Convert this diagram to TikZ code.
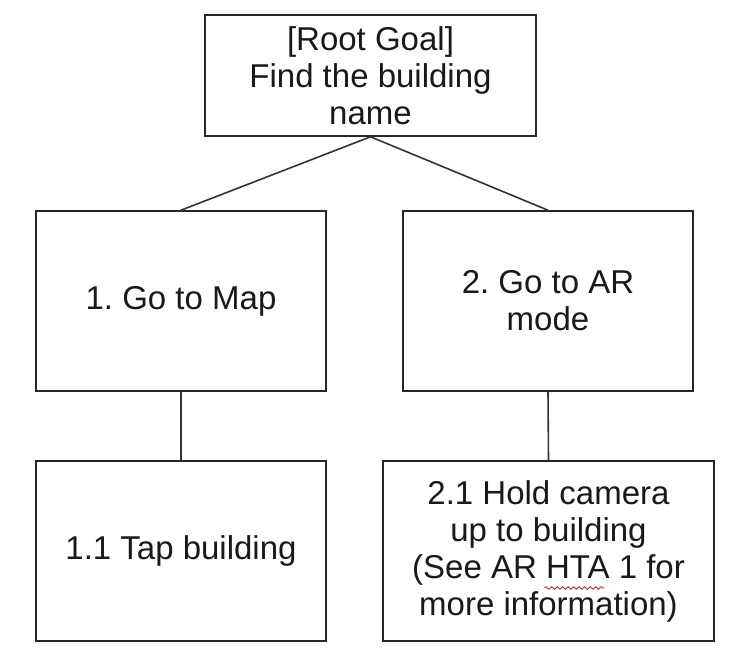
\documentclass[tikz,border=0pt]{standalone}
\usepackage{fontspec}
\setmainfont{Liberation Sans}
\usetikzlibrary{decorations.pathmorphing}
\definecolor{squig}{RGB}{205,45,45}
\frenchspacing
\begin{document}
\begin{tikzpicture}[x=1pt,y=1pt,
  box/.style={draw=black!85,line width=1.6pt,rectangle,align=center,inner sep=0pt,
    font=\fontsize{33}{37}\selectfont\frenchspacing,text=black!90},
  link/.style={draw=black!80,line width=1.6pt},
  squiggle/.style={draw=squig,line width=0.9pt,decorate,decoration={snake,amplitude=1.3pt,segment length=5.5pt}}]
\useasboundingbox (0,0) rectangle (741,-668);
\fill[white] (0,0) rectangle (741,-668);
\node[box,minimum width=331,minimum height=121] (root) at (370.5,-75.5) {[Root Goal]\\Find the building\\name};
\node[box,minimum width=290,minimum height=180] (b1) at (181,-301) {1. Go to Map};
\node[box,minimum width=290,minimum height=180] (b2) at (548,-301) {2. Go to AR\\mode};
\node[box,minimum width=290,minimum height=180] (b11) at (181,-551) {1.1 Tap building};
\node[box,minimum width=331,minimum height=180] (b21) at (548.5,-551) {2.1 Hold camera\\up to building\\(See AR HTA 1 for\\more information)};
\draw[link] (root.south) -- (b1.north);
\draw[link] (root.south) -- (b2.north);
\draw[link] (b1.south) -- (b11.north);
\draw[link] (b2.south) -- (b21.north);
\draw[squiggle] ([xshift=-4pt,yshift=-37pt]b21.center) -- ([xshift=56pt,yshift=-37pt]b21.center);
\end{tikzpicture}
\end{document}
